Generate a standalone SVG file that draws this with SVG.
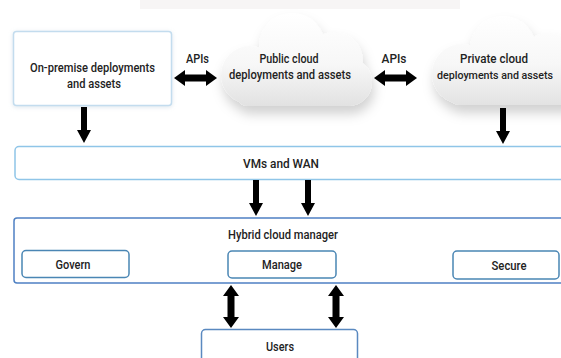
<svg xmlns="http://www.w3.org/2000/svg" xmlns:xlink="http://www.w3.org/1999/xlink" width="561" height="358" viewBox="0 0 561 358">
  <style>
    .lbl { font-family: Roboto, "Liberation Sans", sans-serif; font-size: 12.5px; font-weight: 500; fill: #222; text-anchor: middle; }
    .tight { font-size: 11.5px; }
    .arrow { fill: #000; }
    .sub { fill: #fff; stroke: #4a86b4; stroke-width: 1.5; }
  </style>
  <defs>
    <linearGradient id="cloudFillA" gradientUnits="userSpaceOnUse" x1="0" y1="14" x2="0" y2="106">
      <stop offset="0" stop-color="#ffffff"/>
      <stop offset="0.55" stop-color="#f7f7f7"/>
      <stop offset="1" stop-color="#e2e2e2"/>
    </linearGradient>
    <filter id="cloudShadow" x="-20%" y="-20%" width="140%" height="160%">
      <feDropShadow dx="2" dy="8" stdDeviation="6" flood-color="#000" flood-opacity="0.18"/>
    </filter>
    <filter id="boxShadow" x="-10%" y="-20%" width="120%" height="140%">
      <feDropShadow dx="0" dy="1" stdDeviation="2" flood-color="#9fb9cc" flood-opacity="0.35"/>
    </filter>
    <!-- single-headed arrow pointing down, 36 long, origin at top centre -->
    <path id="downArrow" d="M-3,0 H3 V23 H7 L0,36 L-7,23 H-3 Z"/>
    <!-- double-headed arrow along +x, 43 long, origin at left centre -->
    <path id="biArrow" d="M0,0 L11,-8 V-3.5 H32 V-8 L43,0 L32,8 V3.5 H11 V8 Z"/>
  </defs>

  <rect width="561" height="358" fill="#fff"/>
  <!-- faint strip along the top edge -->
  <rect x="140" y="0" width="320" height="9" fill="#f4f1f1" opacity="0.7"/>

  <g id="on-premise">
    <rect x="13.5" y="31.5" width="158" height="74" rx="3" fill="#fff" stroke="#c3dcee" stroke-width="1.5" filter="url(#boxShadow)"/>
    <text class="lbl" x="92.5" y="72" textLength="125" lengthAdjust="spacingAndGlyphs">On-premise deployments</text>
    <text class="lbl" x="94" y="88" textLength="54" lengthAdjust="spacingAndGlyphs">and assets</text>
  </g>

  <g id="public-cloud">
    <g filter="url(#cloudShadow)" fill="url(#cloudFillA)">
      <circle cx="250" cy="75" r="29"/>
      <circle cx="292" cy="46" r="33"/>
      <circle cx="334" cy="61" r="29"/>
      <circle cx="348" cy="82" r="24"/>
      <rect x="236" y="60" width="122" height="46" rx="12"/>
    </g>
    <text class="lbl" x="289" y="63" textLength="59" lengthAdjust="spacingAndGlyphs">Public cloud</text>
    <text class="lbl" x="290" y="79" textLength="122" lengthAdjust="spacingAndGlyphs">deployments and assets</text>
  </g>

  <g id="private-cloud">
    <g filter="url(#cloudShadow)" fill="url(#cloudFillA)">
      <circle cx="462" cy="74" r="30"/>
      <circle cx="503" cy="49" r="33"/>
      <circle cx="548" cy="62" r="29"/>
      <rect x="448" y="60" width="130" height="45" rx="12"/>
    </g>
    <text class="lbl" x="494" y="63" textLength="68" lengthAdjust="spacingAndGlyphs">Private cloud</text>
    <text class="lbl tight" x="495" y="79" textLength="116" lengthAdjust="spacingAndGlyphs">deployments and assets</text>
  </g>

  <g id="vms-wan">
    <rect x="15" y="146.5" width="560" height="33" rx="4" fill="#fff" stroke="#8fc5e8" stroke-width="1.5"/>
    <text class="lbl" x="281" y="168" textLength="76" lengthAdjust="spacingAndGlyphs">VMs and WAN</text>
  </g>

  <g id="hybrid-manager">
    <rect x="14" y="218" width="560" height="65" rx="3" fill="#fff" stroke="#4f80c3" stroke-width="1.5"/>
    <text class="lbl" x="283" y="239" textLength="110" lengthAdjust="spacingAndGlyphs">Hybrid cloud manager</text>
  </g>

  <g id="govern">
    <rect class="sub" x="22" y="250.5" width="107" height="27" rx="4"/>
    <text class="lbl" x="73" y="269" textLength="35" lengthAdjust="spacingAndGlyphs">Govern</text>
  </g>

  <g id="manage">
    <rect class="sub" x="228" y="251" width="108" height="27" rx="4"/>
    <text class="lbl" x="282" y="269" textLength="40" lengthAdjust="spacingAndGlyphs">Manage</text>
  </g>

  <g id="secure">
    <rect class="sub" x="453" y="251" width="106" height="28" rx="4"/>
    <text class="lbl" x="509" y="270" textLength="35" lengthAdjust="spacingAndGlyphs">Secure</text>
  </g>

  <g id="users">
    <rect x="201.5" y="329.5" width="156" height="40" rx="4" fill="#fff" stroke="#5a89c0" stroke-width="1.5"/>
    <text class="lbl" x="280" y="351" textLength="28" lengthAdjust="spacingAndGlyphs">Users</text>
  </g>

  <g id="connectors" class="arrow">
    <text class="lbl" x="197.5" y="63" textLength="23" lengthAdjust="spacingAndGlyphs">APIs</text>
    <text class="lbl" x="394" y="63" textLength="25" lengthAdjust="spacingAndGlyphs">APIs</text>
    <use xlink:href="#biArrow" transform="translate(174,78)"/>
    <use xlink:href="#biArrow" transform="translate(374,78)"/>
    <use xlink:href="#downArrow" transform="translate(84,107)"/>
    <use xlink:href="#downArrow" transform="translate(503,108)"/>
    <use xlink:href="#downArrow" transform="translate(256,180)"/>
    <use xlink:href="#downArrow" transform="translate(308,180)"/>
    <use xlink:href="#biArrow" transform="translate(231,285) rotate(90)"/>
    <use xlink:href="#biArrow" transform="translate(336,285) rotate(90)"/>
  </g>
</svg>
